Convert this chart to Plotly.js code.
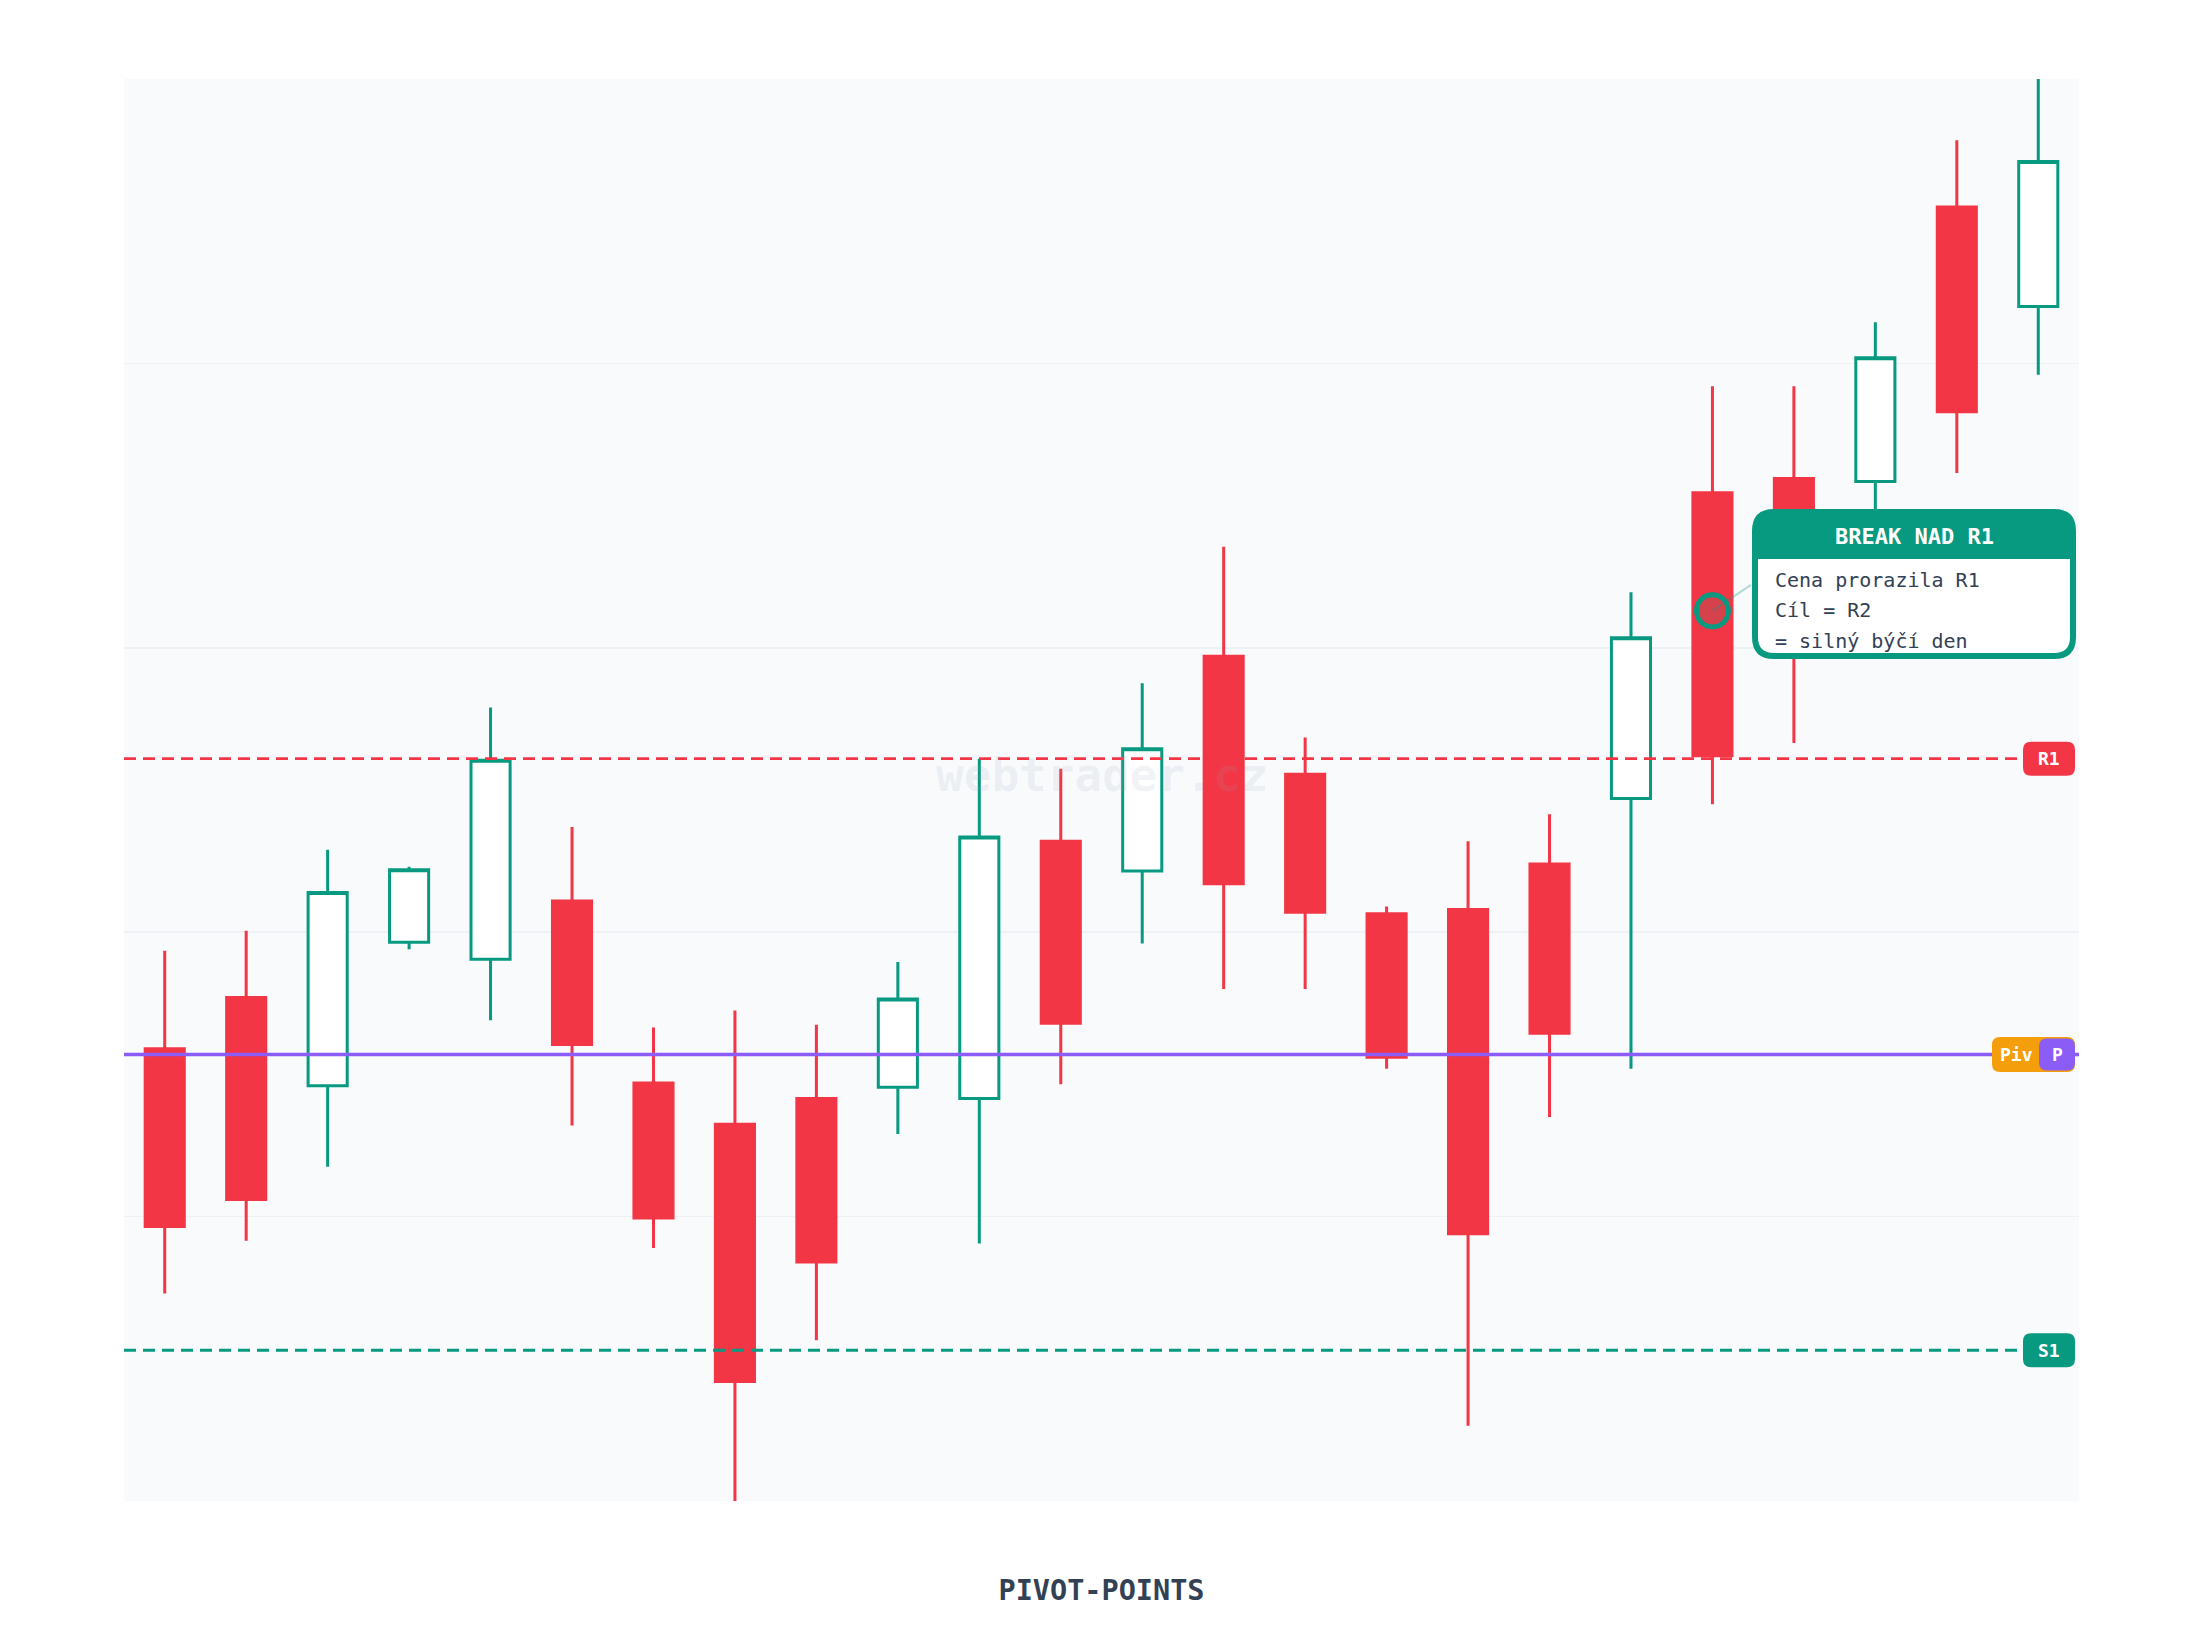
<!DOCTYPE html>
<html>
<head>
<meta charset="utf-8">
<script src="https://cdn.plot.ly/plotly-3.0.1.min.js"></script>
<style>
  html, body { margin: 0; padding: 0; background: #ffffff; }
  #chart { width: 2200px; height: 1640px; }
</style>
</head>
<body>
<div id="chart"></div>
<script>
// ---- data ----
const days  = [0,1,2,3,4,5,6,7,8,9,10,11,12,13,14,15,16,17,18,19,20,21,22,23];
const open  = [103.18,103.54,102.92,103.93,103.81,104.22,102.94,102.65,102.83,102.91,102.83,104.64,104.43,105.94,105.11,104.13,104.16,104.48,104.94,107.09,107.19,107.17,109.10,108.40];
const high  = [103.87,104.01,104.58,104.46,105.58,104.74,103.33,103.45,103.35,103.79,105.22,105.15,105.75,106.71,105.37,104.18,104.64,104.83,106.39,107.84,107.84,108.29,109.57,110.20];
const low   = [101.46,101.83,102.35,103.88,103.38,102.64,101.78,99.90,101.13,102.58,101.81,102.93,103.92,103.60,103.60,103.04,100.53,102.70,103.04,104.90,105.33,106.88,107.23,107.92];
const close = [101.93,102.12,104.28,104.44,105.21,103.21,101.99,100.84,101.68,103.53,104.67,103.36,105.29,104.34,104.14,103.12,101.88,103.29,106.07,105.24,106.31,108.04,107.66,109.42];

const levelNames  = ['R1', 'P', 'S1'];
const levelValues = [105.22, 103.14, 101.06];

const breakDay   = [19];
const breakPrice = [106.26];

const chartTitle = 'PIVOT-POINTS';
const calloutTitle = 'BREAK NAD R1';
const calloutLines = ['Cena prorazila R1', 'Cíl = R2', '= silný býčí den'];
const watermark = 'webtrader.cz';

// ---- style ----
const RED = '#f23645', GREEN = '#089981', PURPLE = '#8b5cf6', ORANGE = '#f59e0b';
const MONO = 'DejaVu Sans Mono, monospace';
const M = {l: 124, r: 121, t: 79, b: 139};
const W = 2200, H = 1640;
const PW = W - M.l - M.r, PH = H - M.t - M.b;
const px = x => (x - M.l) / PW;          // page pixel -> paper x
const py = y => (H - M.b - y) / PH;      // page pixel -> paper y

function rrPaper(x0, y0, x1, y1, r, top, bottom) {
  const rx = r / PW, ry = r / PH;
  const X0 = px(x0), X1 = px(x1), Yt = py(y0), Yb = py(y1);
  let p = '';
  if (top) {
    p += `M${X0},${Yt - ry} Q${X0},${Yt} ${X0 + rx},${Yt} L${X1 - rx},${Yt} Q${X1},${Yt} ${X1},${Yt - ry} `;
  } else {
    p += `M${X0},${Yt} L${X1},${Yt} `;
  }
  if (bottom) {
    p += `L${X1},${Yb + ry} Q${X1},${Yb} ${X1 - rx},${Yb} L${X0 + rx},${Yb} Q${X0},${Yb} ${X0},${Yb + ry} Z`;
  } else {
    p += `L${X1},${Yb} L${X0},${Yb} Z`;
  }
  return p;
}
function rrPix(x0, x1, h, r) {
  const y0 = -h / 2, y1 = h / 2;
  return `M${x0 + r},${y0} L${x1 - r},${y0} Q${x1},${y0} ${x1},${y0 + r} L${x1},${y1 - r} Q${x1},${y1} ${x1 - r},${y1} L${x0 + r},${y1} Q${x0},${y1} ${x0},${y1 - r} L${x0},${y0 + r} Q${x0},${y0} ${x0 + r},${y0} Z`;
}

const candles = {
  type: 'candlestick',
  x: days, open: open, high: high, low: low, close: close,
  increasing: {line: {color: GREEN, width: 3}, fillcolor: '#ffffff'},
  decreasing: {line: {color: RED, width: 3}, fillcolor: RED},
  whiskerwidth: 0,
  hoverinfo: 'skip',
  showlegend: false
};

const marker = {
  type: 'scatter', mode: 'markers',
  x: breakDay, y: breakPrice,
  marker: {size: 32, color: 'rgba(8,153,129,0.12)', line: {color: GREEN, width: 5}},
  hoverinfo: 'skip', showlegend: false
};

const R1 = levelValues[0], P = levelValues[1], S1 = levelValues[2];

const badge = (yv, x0, x1, h, color) => ({
  type: 'path', layer: 'above', xref: 'paper', xsizemode: 'pixel', xanchor: 1,
  yref: 'y', ysizemode: 'pixel', yanchor: yv, path: rrPix(x0, x1, h, 8),
  fillcolor: color, line: {width: 0}
});

const shapes = [
  {type: 'line', xref: 'paper', x0: 0, x1: 1, yref: 'y', y0: R1, y1: R1, layer: 'above',
   line: {color: RED, width: 2.8, dash: '12px,7px'}},
  {type: 'line', xref: 'paper', x0: 0, x1: 1, yref: 'y', y0: S1, y1: S1, layer: 'above',
   line: {color: GREEN, width: 2.8, dash: '12px,7px'}},
  {type: 'line', xref: 'paper', x0: 0, x1: 1, yref: 'y', y0: P, y1: P, layer: 'above',
   line: {color: PURPLE, width: 3.5}},
  badge(R1, -56, -4, 34, RED),
  badge(S1, -56, -4, 34, GREEN),
  badge(P, -87, -4, 35, ORANGE),
  badge(P, -40, -4, 32, PURPLE),
  // callout box
  {type: 'path', layer: 'above', xref: 'paper', yref: 'paper',
   path: rrPaper(1754, 511, 2074, 657, 20, true, true),
   fillcolor: GREEN, line: {color: GREEN, width: 4}},
  {type: 'path', layer: 'above', xref: 'paper', yref: 'paper',
   path: rrPaper(1758, 559, 2070, 653, 16, false, true),
   fillcolor: '#ffffff', line: {width: 0}}
];

const annotations = [
  {xref: 'paper', yref: 'paper', x: 0.5, y: py(775), xanchor: 'center', yanchor: 'middle',
   text: watermark, showarrow: false,
   font: {family: MONO, size: 46, color: 'rgba(148,163,184,0.13)', weight: 'bold'}},
  {x: breakDay[0], y: breakPrice[0], xref: 'x', yref: 'y', text: '', showarrow: true,
   arrowhead: 0, arrowwidth: 2, arrowcolor: 'rgba(8,153,129,0.3)', ax: 40, ay: -27},
  {xref: 'paper', yref: 'y', x: 1, y: R1, xshift: -30, xanchor: 'center', yanchor: 'middle',
   text: '<b>R1</b>', showarrow: false, font: {family: MONO, size: 18, color: '#ffffff'}},
  {xref: 'paper', yref: 'y', x: 1, y: S1, xshift: -30, xanchor: 'center', yanchor: 'middle',
   text: '<b>S1</b>', showarrow: false, font: {family: MONO, size: 18, color: '#ffffff'}},
  {xref: 'paper', yref: 'y', x: 1, y: P, xshift: -81, xanchor: 'left', yanchor: 'middle',
   text: '<b>Piv</b>', showarrow: false, font: {family: MONO, size: 18, color: '#ffffff'}},
  {xref: 'paper', yref: 'y', x: 1, y: P, xshift: -22, xanchor: 'center', yanchor: 'middle',
   text: '<b>P</b>', showarrow: false, font: {family: MONO, size: 18, color: '#ffffff'}},
  {xref: 'paper', yref: 'paper', x: px(1914), y: py(536), xanchor: 'center', yanchor: 'middle',
   text: '<b>' + calloutTitle + '</b>', showarrow: false,
   font: {family: MONO, size: 22, color: '#ffffff'}},
];
const lineY = [580, 610, 641];
calloutLines.forEach((t, i) => annotations.push({
  xref: 'paper', yref: 'paper', x: px(1773), y: py(lineY[i]), xanchor: 'left', yanchor: 'middle',
  text: t, showarrow: false, font: {family: MONO, size: 20, color: '#334155'}
}));

const layout = {
  width: W, height: H,
  margin: M,
  paper_bgcolor: '#ffffff',
  plot_bgcolor: '#f8fafc',
  boxgap: 0.52,
  boxgroupgap: 0,
  showlegend: false,
  title: {text: '<b>' + chartTitle + '</b>', xref: 'paper', x: 0.5, yref: 'container', y: 1 - 1590 / H,
          xanchor: 'center', yanchor: 'middle', font: {family: MONO, size: 28.5, color: '#334155'}},
  xaxis: {range: [-0.5, 23.5], showgrid: false, zeroline: false, showticklabels: false,
          showline: false, ticks: '', rangeslider: {visible: false}, fixedrange: true},
  yaxis: {range: [100, 110], dtick: 2, tick0: 100, showgrid: true, gridcolor: '#eef1f5', gridwidth: 1.5,
          zeroline: false, showticklabels: false, showline: false, ticks: '', fixedrange: true},
  shapes: shapes,
  annotations: annotations,
  hovermode: false
};

Plotly.newPlot('chart', [candles, marker], layout, {displayModeBar: false, staticPlot: true});
</script>
</body>
</html>
